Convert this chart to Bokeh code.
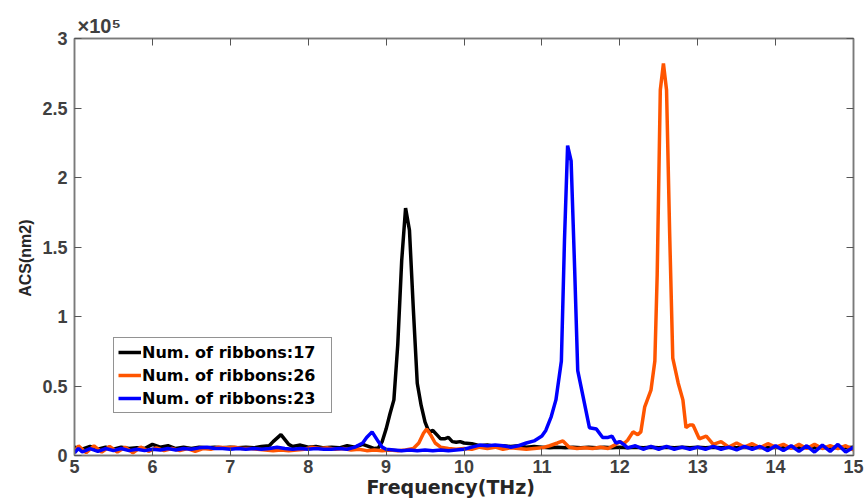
from bokeh.plotting import figure
from bokeh.models import (FixedTicker, LinearAxis, Range1d, Legend, LegendItem, Title)
from bokeh.embed import file_html
from bokeh.resources import INLINE

# ---------------- data (ACS in units of nm^2) ----------------
freq_17 = [5.0, 5.1, 5.2, 5.3, 5.4, 5.5, 5.6, 5.7, 5.8, 5.9, 6.0, 6.1, 6.2, 6.3, 6.4, 6.5,
           6.6, 6.7, 6.8, 6.9, 7.0, 7.1, 7.2, 7.3, 7.4, 7.5, 7.55, 7.65, 7.75, 7.8, 7.9,
           8.0, 8.1, 8.2, 8.3, 8.4, 8.5, 8.6, 8.7, 8.8, 8.85, 8.9, 8.95, 9.0, 9.05, 9.1,
           9.15, 9.2, 9.25, 9.3, 9.35, 9.4, 9.45, 9.5, 9.55, 9.6, 9.65, 9.7, 9.75, 9.8,
           9.85, 9.9, 9.95, 10.0, 10.1, 10.2, 10.3, 10.4, 10.5, 10.6, 10.7, 10.8, 10.9,
           11.0, 11.1, 11.2, 11.3, 11.4, 11.5, 11.6, 11.7, 11.8, 11.9, 12.0, 12.1, 12.2,
           12.3, 12.4, 12.5, 12.6, 12.7, 12.8, 12.9, 13.0, 13.1, 13.2, 13.3, 13.4, 13.5,
           13.6, 13.7, 13.8, 13.9, 14.0, 14.1, 14.2, 14.3, 14.4, 14.5, 14.6, 14.7, 14.8,
           14.9, 15.0]
acs_17 = [6000, 4500, 6500, 4500, 6000, 4500, 6000, 5000, 5500, 5000, 8000, 6000, 7000,
          5000, 6000, 5000, 6000, 5500, 6000, 5500, 6000, 5500, 6000, 5500, 6500, 7000,
          10000, 15000, 8000, 6500, 7500, 6000, 6500, 5500, 6000, 5500, 7000, 6000, 8000,
          6000, 5000, 5500, 10000, 19000, 30000, 40000, 80000, 140000, 178000, 162000,
          105000, 52000, 36000, 24000, 17000, 18000, 15000, 12000, 12000, 13000, 10000,
          9500, 10000, 9000, 8500, 7000, 7500, 6500, 7000, 6500, 7000, 6000, 6500, 6000,
          5500, 6000, 5500, 6000, 5500, 6000, 5500, 6000, 5500, 6000, 5500, 6000, 5500,
          6000, 5500, 6000, 5500, 6000, 5500, 6000, 5500, 6000, 5500, 6000, 5500, 6000,
          5500, 6000, 5500, 6000, 5500, 6000, 5500, 6000, 5500, 6000, 5500, 6000, 5500,
          6000]

freq_26 = [5.0, 5.05, 5.15, 5.25, 5.35, 5.45, 5.55, 5.65, 5.75, 5.85, 5.95, 6.05, 6.15,
           6.25, 6.35, 6.45, 6.55, 6.65, 6.75, 6.85, 6.95, 7.05, 7.15, 7.25, 7.35, 7.45,
           7.55, 7.65, 7.75, 7.85, 7.95, 8.05, 8.15, 8.25, 8.35, 8.45, 8.55, 8.65, 8.75,
           8.85, 8.95, 9.05, 9.15, 9.25, 9.35, 9.42, 9.48, 9.52, 9.57, 9.63, 9.7, 9.8,
           9.9, 10.0, 10.1, 10.2, 10.3, 10.4, 10.5, 10.6, 10.7, 10.8, 10.9, 11.0, 11.1,
           11.2, 11.27, 11.35, 11.45, 11.55, 11.65, 11.75, 11.85, 11.95, 12.0, 12.05,
           12.1, 12.17, 12.23, 12.27, 12.32, 12.4, 12.45, 12.48, 12.52, 12.56, 12.6,
           12.64, 12.68, 12.75, 12.81, 12.85, 12.9, 12.94, 13.02, 13.11, 13.2, 13.3,
           13.4, 13.5, 13.6, 13.7, 13.8, 13.9, 14.0, 14.1, 14.2, 14.3, 14.4, 14.5, 14.6,
           14.7, 14.8, 14.9, 15.0]
acs_26 = [2000, 7000, 2000, 7000, 2500, 6500, 2500, 6000, 2000, 6000, 3000, 5500, 3500,
          5000, 3500, 5000, 3000, 5000, 4500, 6000, 5500, 6000, 5000, 5000, 4500, 4000,
          3500, 4000, 3500, 4000, 4500, 6000, 5000, 5500, 4500, 5000, 4000, 4500, 3500,
          4000, 3500, 4000, 3500, 4000, 5000, 9000, 16000, 19000, 15000, 9000, 6000,
          5000, 4500, 5000, 4500, 6000, 5000, 6000, 4500, 5500, 5000, 4500, 5000, 5500,
          7000, 9000, 10500, 6000, 5000, 5500, 5000, 6000, 5000, 8000, 10000, 8500,
          11000, 17000, 15000, 17000, 35000, 47000, 68000, 130000, 263000, 282000,
          263000, 160000, 70000, 52000, 40000, 20000, 22000, 22000, 12000, 14000, 8000,
          10000, 6000, 9000, 6000, 8500, 5500, 8500, 6000, 8000, 5000, 8000, 5000, 8000,
          5000, 7000, 5000, 7000, 4000]

freq_23 = [5.0, 5.05, 5.1, 5.2, 5.3, 5.4, 5.5, 5.6, 5.7, 5.8, 5.9, 6.0, 6.1, 6.2, 6.3,
           6.4, 6.5, 6.6, 6.7, 6.8, 6.9, 7.0, 7.1, 7.2, 7.3, 7.4, 7.5, 7.6, 7.7, 7.8,
           7.9, 8.0, 8.1, 8.2, 8.3, 8.4, 8.5, 8.6, 8.7, 8.75, 8.82, 8.9, 8.95, 9.0, 9.1,
           9.2, 9.3, 9.4, 9.5, 9.6, 9.7, 9.8, 9.9, 10.0, 10.1, 10.2, 10.3, 10.4, 10.5,
           10.6, 10.7, 10.8, 10.9, 11.0, 11.05, 11.12, 11.18, 11.25, 11.29, 11.33,
           11.375, 11.42, 11.46, 11.53, 11.61, 11.7, 11.78, 11.85, 11.9, 11.95, 12.0,
           12.05, 12.1, 12.2, 12.3, 12.4, 12.5, 12.6, 12.7, 12.8, 12.9, 13.0, 13.1,
           13.2, 13.3, 13.4, 13.5, 13.6, 13.7, 13.8, 13.9, 14.0, 14.1, 14.2, 14.3, 14.4,
           14.5, 14.6, 14.7, 14.8, 14.9, 15.0]
acs_23 = [2000, 5000, 2500, 5000, 3000, 5000, 3500, 5000, 3500, 4500, 3500, 4500, 4000,
          5000, 4000, 5000, 4500, 5500, 6000, 5000, 5000, 4500, 5000, 4500, 5000, 4500,
          5000, 6000, 5000, 4500, 5000, 4500, 5000, 4500, 4500, 5000, 4500, 6000, 9000,
          13000, 17000, 10000, 6000, 4500, 4000, 3500, 4000, 3500, 4000, 3500, 4000,
          3500, 4000, 4500, 6000, 7500, 7000, 7500, 7000, 6000, 7000, 9000, 10500,
          14000, 18000, 28000, 40000, 68000, 155000, 223000, 212000, 135000, 61000,
          42000, 20000, 19000, 13000, 13000, 14000, 9000, 10000, 8000, 5500, 7000, 4500,
          6500, 4500, 6500, 4500, 6000, 4500, 6000, 4500, 6500, 4500, 6000, 4000, 6500,
          4500, 6500, 3500, 7000, 3500, 7000, 3000, 7000, 2500, 7500, 3000, 8000, 2500,
          6000]

series_labels = ["Num. of ribbons:17", "Num. of ribbons:26", "Num. of ribbons:23"]
series_colors = ["#000000", "#FF5500", "#0000FF"]

x_ticks = [5, 6, 7, 8, 9, 10, 11, 12, 13, 14, 15]
y_ticks = [0, 50000, 100000, 150000, 200000, 250000, 300000]
y_tick_labels = ["0", "0.5", "1", "1.5", "2", "2.5", "3"]
x_title = "Frequency(THz)"
y_title = "ACS(nm2)"
exponent_text = "\u00d710\u2075"

# ---------------- figure ----------------
FONT = "Liberation Sans"
WIDE = "DejaVu Sans"
AXIS_COL = "#7A7A7A"
TICK_COL = "#404040"
NBSP = "\u00a0"

p = figure(width=865, height=502, output_backend="svg", toolbar_location=None,
           x_range=Range1d(5, 15), y_range=Range1d(0, 300000),
           min_border_left=74, min_border_right=12, min_border_top=38,
           min_border_bottom=47, x_axis_location=None, y_axis_location=None)
p.grid.visible = False
p.outline_line_color = AXIS_COL
p.outline_line_width = 1.5
p.background_fill_color = "white"
p.border_fill_color = "white"

def style_axis(ax, ticks, show_labels):
    ax.ticker = FixedTicker(ticks=ticks)
    ax.axis_line_color = AXIS_COL
    ax.axis_line_width = 1.5
    ax.major_tick_line_color = "#555555"
    ax.major_tick_in = 7
    ax.major_tick_out = 0
    ax.minor_tick_line_color = None
    ax.major_label_text_font = FONT
    ax.major_label_text_font_style = "bold"
    ax.major_label_text_font_size = "18px"
    ax.major_label_text_color = TICK_COL
    if not show_labels:
        ax.major_label_overrides = {t: "" for t in ticks}
        ax.major_label_text_font_size = "1px"
        ax.major_label_text_color = None
        ax.major_label_standoff = 0

# x axis label is set a little left of centre, as in the reference
xb = LinearAxis(axis_label=x_title + NBSP * 4)
style_axis(xb, x_ticks, True)
xb.major_label_standoff = 4
xb.axis_label_text_font = WIDE
xb.axis_label_text_font_style = "bold"
xb.axis_label_text_font_size = "19px"
xb.axis_label_text_color = "#262626"
xb.axis_label_standoff = 0
p.add_layout(xb, "below")

yl = LinearAxis(axis_label=y_title + NBSP * 5)
style_axis(yl, y_ticks, True)
yl.major_label_overrides = {t: s for t, s in zip(y_ticks, y_tick_labels)}
yl.major_label_standoff = 7
yl.axis_label_text_font = FONT
yl.axis_label_text_font_style = "bold"
yl.axis_label_text_font_size = "16px"
yl.axis_label_text_color = "#262626"
yl.axis_label_standoff = 5
p.add_layout(yl, "left")

xt = LinearAxis()
style_axis(xt, x_ticks, False)
p.add_layout(xt, "above")
yr = LinearAxis()
style_axis(yr, y_ticks, False)
p.add_layout(yr, "right")

# exponent marker above the top-left corner
exp_title = Title(text=exponent_text, align="left", offset=3, standoff=3,
                  text_font=FONT, text_font_style="bold", text_font_size="20px",
                  text_color=TICK_COL)
p.add_layout(exp_title, "above")

# ---------------- lines ----------------
r17 = p.line(freq_17, acs_17, line_color=series_colors[0], line_width=3.5)
r26 = p.line(freq_26, acs_26, line_color=series_colors[1], line_width=3.5)
r23 = p.line(freq_23, acs_23, line_color=series_colors[2], line_width=3.5)

legend = Legend(items=[LegendItem(label=series_labels[0], renderers=[r17]),
                       LegendItem(label=series_labels[1], renderers=[r26]),
                       LegendItem(label=series_labels[2], renderers=[r23])],
                location=(39, 42))
legend.label_text_font = WIDE
legend.label_text_font_style = "bold"
legend.label_text_font_size = "16px"
legend.label_text_color = "#000000"
legend.label_standoff = 1
legend.label_width = 185
legend.glyph_width = 23
legend.glyph_height = 20
legend.label_height = 20
legend.spacing = 3
legend.padding = 4
legend.margin = 0
legend.border_line_color = "#262626"
legend.border_line_width = 1
legend.background_fill_alpha = 1
p.add_layout(legend)

open("out.html", "w").write(file_html(p, INLINE))
